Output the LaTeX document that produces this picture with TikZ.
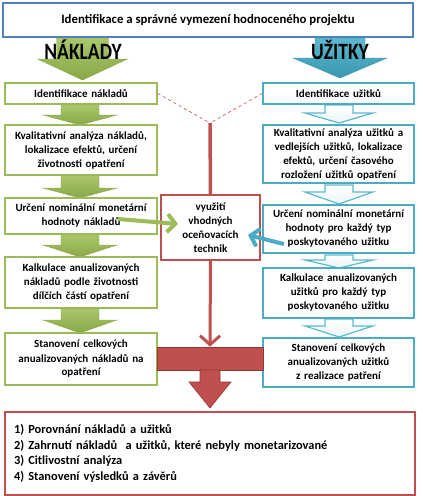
\documentclass[tikz,border=0pt]{standalone}
\usepackage{fontspec}
\setmainfont{Carlito}
\usepackage{graphicx}
\usetikzlibrary{arrows.meta,calc}
\definecolor{grn}{HTML}{9BBB59}
\definecolor{grnl}{HTML}{A9C76B}
\definecolor{grnd}{HTML}{89A847}
\definecolor{blu}{HTML}{4BACC6}
\definecolor{blul}{HTML}{5BB8D0}
\definecolor{blud}{HTML}{3A97B0}
\definecolor{rd}{HTML}{C0504D}
\definecolor{rdd}{HTML}{943634}
\definecolor{ttl}{HTML}{4F81BD}
\newcommand\dnarrow[7]{%
 \draw[#1] ({#2-#6},#3) -- ({#2+#6},#3) -- ({#2+#6},#4) -- ({#2+#7},#4) -- (#2,#5) -- ({#2-#7},#4) -- ({#2-#6},#4) -- cycle;}
\begin{document}
\begin{tikzpicture}[x=1pt,y=-1pt,
 box/.style={draw, line width=1.6pt, fill=white, align=center, inner sep=0pt,
   font=\fontsize{11}{14}\selectfont\bfseries},
 gbox/.style={box, draw=grn, minimum width=152pt, text width=148pt},
 bbox/.style={box, draw=blu, minimum width=151pt, text width=148pt},
 garr/.style={top color=grnl, bottom color=grnd, draw=grnd, line width=0.4pt},
 barr/.style={top color=white, bottom color=blu!12, draw=blul, line width=1.2pt},
 hdrg/.style={top color=grnl, bottom color=grnd, draw=grnd, line width=0.4pt},
 hdrb/.style={top color=blul, bottom color=blud, draw=blud, line width=0.4pt},
 hdr/.style={inner sep=0pt, font=\fontsize{19.5}{20}\selectfont\bfseries},
 sidearrow/.style={line width=4pt, -{Straight Barb[length=8pt,width=18pt]}},
]
\useasboundingbox (0,0) rectangle (423,496);
% header arrows
\dnarrow{hdrg}{82.5}{38}{59}{80}{26}{45}
\dnarrow{hdrb}{340}{38}{58}{78}{25}{47}
% green flow arrows
\dnarrow{garr}{80}{105}{115}{125}{19}{37}
\dnarrow{garr}{80}{176}{188}{198}{19}{37}
\dnarrow{garr}{80}{235}{245}{257}{19}{37}
\dnarrow{garr}{80}{309}{320}{333}{19}{37}
% blue flow arrows
\dnarrow{barr}{339}{105}{113}{123}{14}{34}
\dnarrow{barr}{339}{185}{192}{204}{14}{34}
\dnarrow{barr}{339}{255}{260}{268}{14}{34}
\dnarrow{barr}{339}{319}{326}{337}{14}{34}

% title
\node[box, draw=ttl, line width=1.8pt, minimum width=410pt, minimum height=34pt,
  font=\fontsize{12.8}{14}\selectfont\bfseries] (title) at (208,20)
  {Identifikace a správné vymezení hodnoceného projektu};
\node[hdr] (nak) at (83,50) {\scalebox{1}[1.2]{NÁKLADY}};
\node[hdr] (uzi) at (340,50) {\scalebox{1}[1.2]{UŽITKY}};

% green boxes
\node[gbox, minimum height=21pt] (g1) at (81,93.5) {Identifikace nákladů};
\node[gbox, minimum height=50pt] (g2) at (81,150) {Kvalitativní analýza nákladů,\\ lokalizace efektů, určení\\ životnosti opatření};
\node[gbox, minimum height=36pt] (g3) at (81,216) {Určení nominální monetární\\ hodnoty nákladů};
\node[gbox, minimum height=51pt] (g4) at (81,282.5) {Kalkulace anualizovaných\\ nákladů podle životnosti\\ dílčích částí opatření};
\node[gbox, minimum height=52pt] (g5) at (81,359) {Stanovení celkových\\ anualizovaných nákladů na\\ opatření};

% blue boxes
\node[bbox, minimum height=21pt] (b1) at (338.5,93.5) {Identifikace užitků};
\node[bbox, minimum height=58pt] (b2) at (338.5,154) {Kvalitativní analýza užitků a\\ vedlejších užitků, lokalizace\\ efektů, určení časového\\ rozložení užitků opatření};
\node[bbox, minimum height=48pt] (b3) at (338.5,229) {Určení nominální monetární\\ hodnoty pro každý typ\\ poskytovaného užitku};
\node[bbox, minimum height=50pt] (b4) at (338.5,293) {Kalkulace anualizovaných\\ užitků pro každý typ\\ poskytovaného užitku};
\node[bbox, minimum height=49pt] (b5) at (338.5,362.5) {Stanovení celkových\\ anualizovaných užitků\\ z realizace patření};

% red central box
\node[box, draw=rd, minimum width=99pt, minimum height=65pt, text width=95pt] (r) at (210.5,227.5)
  {využití\\ vhodných\\ oceňovacích\\ technik};

% dashed lines and red connectors
\coordinate (J) at (210,123);
\draw[rd, dashed, line width=0.6pt] (g1.east) -- (J);
\draw[rd, dashed, line width=0.6pt] (b1.west) -- (J);
\draw[rd, line width=3.5pt] (J) -- (r.north);

\node[fill=rd, draw=rdd, line width=0.6pt, minimum width=106pt, minimum height=23pt, inner sep=0pt] (tbar) at (210,358.5) {};
\draw[rd, line width=3pt, -{Straight Barb[length=9pt,width=20pt]}] (r.south) -- (tbar.north);
\draw[fill=rd, draw=rdd, line width=0.6pt] (200,370) -- (220,370) -- (220,382) -- (231,382) -- (210,408) -- (189,382) -- (200,382) -- cycle;

% side arrows
\coordinate (gs) at (118,219);
\coordinate (ge) at (178,224);
\draw[grn, sidearrow] (gs) -- (ge);
\coordinate (bs) at (284,244);
\coordinate (be) at (248,235);
\draw[blu, sidearrow] (bs) -- (be);

% final box
\node[draw=rd, line width=1.6pt, fill=white, minimum width=410pt, minimum height=83pt, inner sep=0pt] (fin) at (210,453.5) {};
\node[inner sep=0pt, text width=392pt, align=left, font=\fontsize{12.4}{15.5}\selectfont\bfseries] (fintext) at (fin.center)
 {1) Porovnání nákladů a užitků\\
  2) Zahrnutí nákladů \ a užitků, které nebyly monetarizované\\
  3) Citlivostní analýza\\
  4) Stanovení výsledků a závěrů};
\end{tikzpicture}
\end{document}
